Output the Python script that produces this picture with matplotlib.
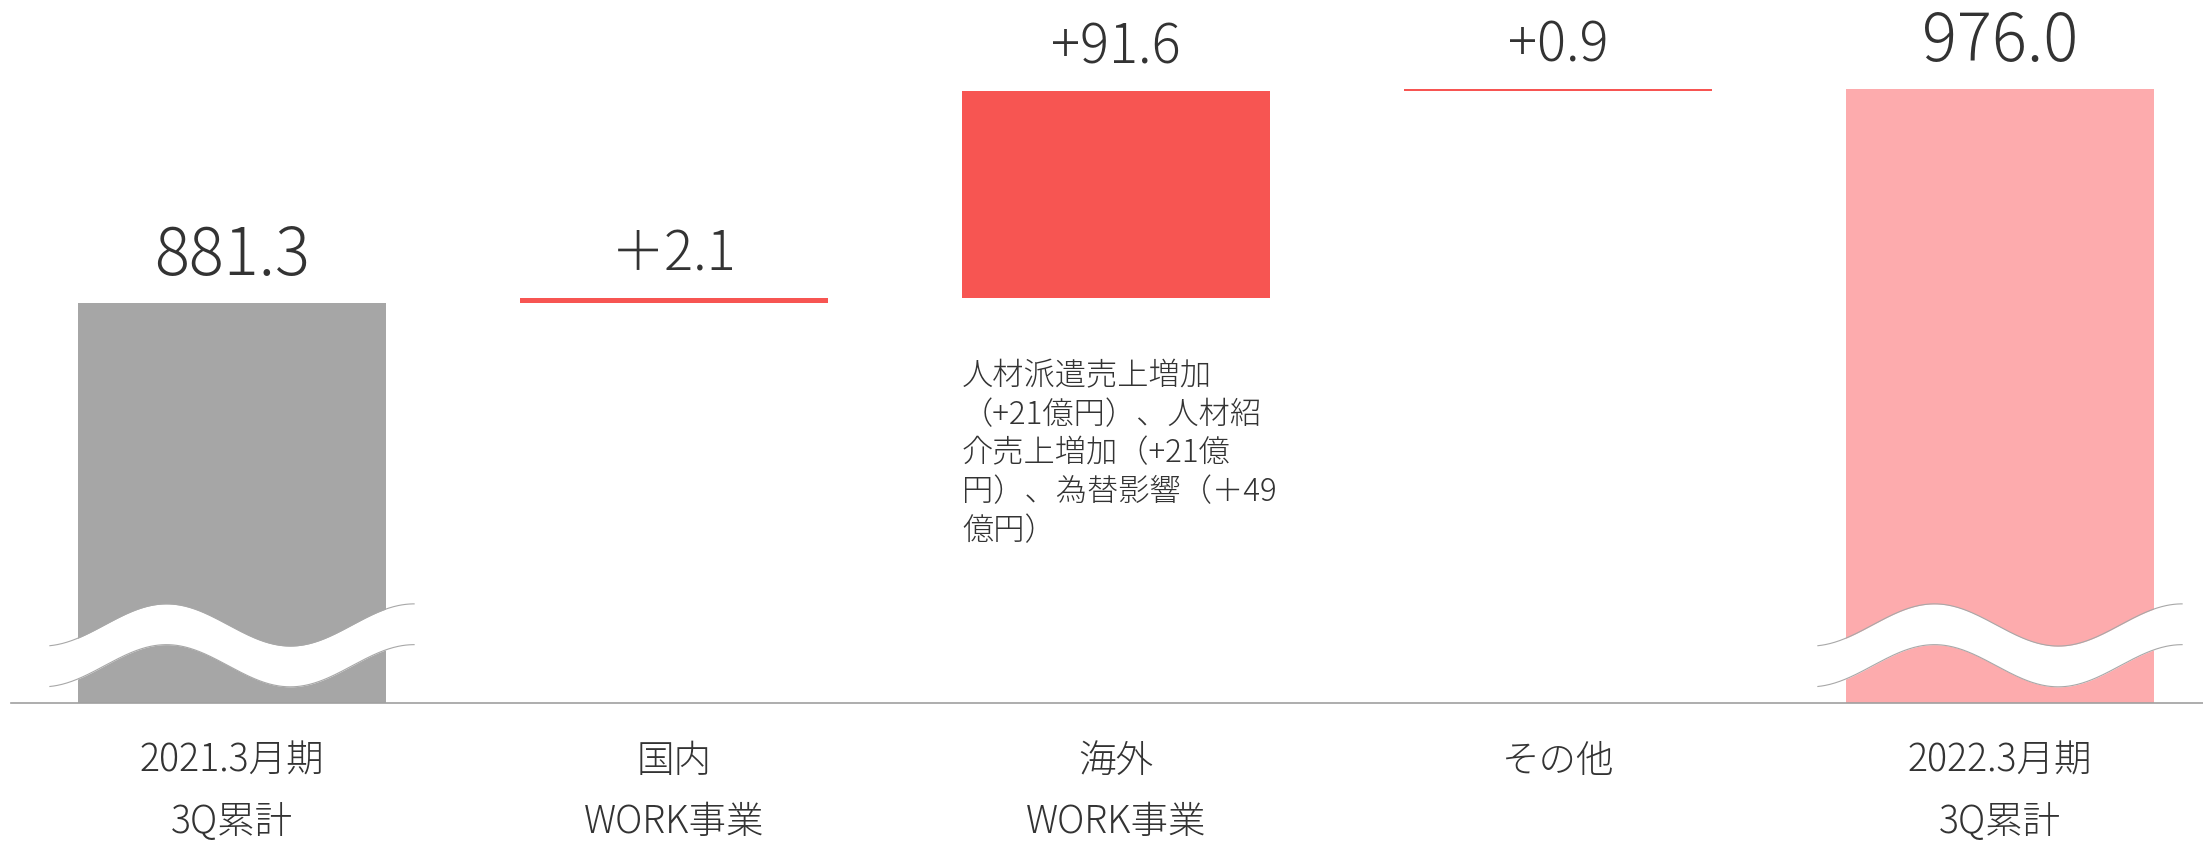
import numpy as np
import matplotlib
matplotlib.use("Agg")
from matplotlib import pyplot as plt
from matplotlib import transforms

plt.rcParams['font.family'] = ['Noto Sans CJK JP', 'DejaVu Sans']
plt.rcParams['font.weight'] = 'light'

# data
start_value = 881.3
end_value = 976.0
deltas = [2.1, 91.6, 0.9]
value_labels = ["881.3", "＋2.1", "+91.6", "+0.9", "976.0"]
cat_line1 = ["2021.3月期", "国内", "海外", "その他", "2022.3月期"]
cat_line2 = ["3Q累計", "WORK事業", "WORK事業", "", "3Q累計"]
note_text = "人材派遣売上増加\n（+21億円）、人材紹\n介売上増加（+21億\n円）、為替影響（＋49\n億円）"

GRAY = "#a6a6a6"
RED = "#f75552"
PINK = "#fdabad"
TXT = "#333333"

W, H = 2203, 842
fig = plt.figure(figsize=(W / 100, H / 100), dpi=100)
ax = fig.add_axes([11 / W, 139 / H, 1 - 11 / W, 703 / H])

# waterfall bars
x = np.arange(5)
bottoms = [0]
heights = [start_value]
cum = start_value
for d in deltas:
    bottoms.append(cum)
    heights.append(d)
    cum += d
bottoms.append(0)
heights.append(end_value)
colors = [GRAY, RED, RED, RED, PINK]
bw = 308 / 442
ax.bar(x, heights, bottom=bottoms, width=bw, color=colors, zorder=2)

ax.set_xlim(-0.5, (W - 232) / 442)
ax.set_ylim(704.3, 1015.4)

# value labels
for i in range(5):
    top = bottoms[i] + heights[i]
    big = i in (0, 4)
    ax.annotate(value_labels[i], (x[i], top), xytext=(0, 20), textcoords="offset points",
                ha="center", va="baseline", fontsize=47 if big else 39, color=TXT)

# broken axis marks on the total bars
trans = transforms.blended_transform_factory(ax.transData, ax.transAxes)
t = np.linspace(0, 1, 300)
wave = np.cos(2 * np.pi * (t - 0.32) / 0.68)
for i in (0, 4):
    xs = x[i] - 0.412 + 0.824 * t
    upper = 0.111 + 0.030 * wave
    lower = 0.053 + 0.030 * wave
    ax.fill_between(xs, lower, upper, color="white", transform=trans, zorder=3, lw=0)
    ax.plot(xs, upper, color="#a8a8a8", lw=0.8, transform=trans, zorder=4)
    ax.plot(xs, lower, color="#a8a8a8", lw=0.8, transform=trans, zorder=4)

# note under overseas bar
ax.annotate(note_text, (x[2] - bw / 2, 1), xycoords=trans, xytext=(0, -360), textcoords="offset pixels",
            ha="left", va="top", fontsize=22.5, color=TXT, linespacing=1.27)

# category labels
for i in range(5):
    ax.annotate(cat_line1[i], (x[i], 0), xycoords=trans, xytext=(0, -69), textcoords="offset pixels",
                ha="center", va="baseline", fontsize=27, color=TXT)
    if cat_line2[i]:
        ax.annotate(cat_line2[i], (x[i], 0), xycoords=trans, xytext=(0, -130), textcoords="offset pixels",
                    ha="center", va="baseline", fontsize=27, color=TXT)

for s in ["top", "left", "right"]:
    ax.spines[s].set_visible(False)
ax.spines["bottom"].set_color("#a0a0a0")
ax.spines["bottom"].set_linewidth(1.2)
ax.set_xticks([])
ax.set_yticks([])

fig.savefig("out.png", dpi=100, facecolor="white")
